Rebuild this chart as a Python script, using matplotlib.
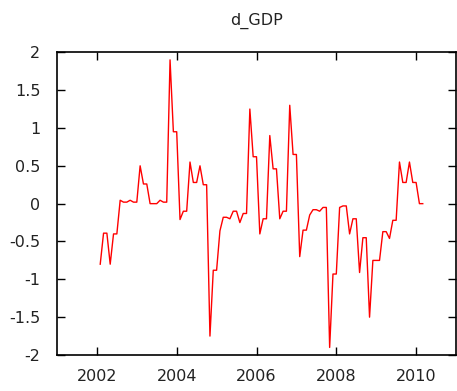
import numpy as np
import matplotlib
matplotlib.use("Agg")
import matplotlib.pyplot as plt

# monthly series, first observation 2002:02
start_year = 2002
start_month = 2
d_gdp = [-0.80, -0.39, -0.39, -0.80, -0.40, -0.40,
         0.045, 0.02, 0.02, 0.045, 0.02, 0.02,
         0.50, 0.26, 0.26, 0.0, 0.0, 0.0,
         0.045, 0.02, 0.02, 1.90, 0.95, 0.95,
         -0.21, -0.10, -0.10, 0.55, 0.28, 0.28,
         0.50, 0.25, 0.25, -1.75, -0.88, -0.88,
         -0.36, -0.18, -0.18, -0.20, -0.10, -0.10,
         -0.25, -0.13, -0.13, 1.25, 0.62, 0.62,
         -0.40, -0.20, -0.20, 0.90, 0.46, 0.46,
         -0.20, -0.10, -0.10, 1.30, 0.65, 0.65,
         -0.70, -0.35, -0.35, -0.15, -0.08, -0.08,
         -0.10, -0.05, -0.05, -1.90, -0.93, -0.93,
         -0.05, -0.03, -0.03, -0.40, -0.20, -0.20,
         -0.91, -0.45, -0.45, -1.50, -0.75, -0.75,
         -0.75, -0.37, -0.37, -0.46, -0.22, -0.22,
         0.55, 0.28, 0.28, 0.55, 0.28, 0.28,
         0.0, 0.0]

xticks = [2002, 2004, 2006, 2008, 2010]
yticks = [-2, -1.5, -1, -0.5, 0, 0.5, 1, 1.5, 2]
ytick_labels = ['-2', '-1.5', '-1', '-0.5', '0', '0.5', '1', '1.5', '2']

t = start_year + (start_month - 1 + np.arange(len(d_gdp))) / 12.0

fig = plt.figure(figsize=(4.57, 3.91), dpi=100)
ax = fig.add_axes([57 / 457, 1 - 355 / 391, 399 / 457, (355 - 52.3) / 391])

ax.plot(t, d_gdp, color='#ff0000', linewidth=1.0)

ax.set_xlim(2001, 2011)
ax.set_ylim(-2, 2)
ax.set_xticks(xticks)
ax.set_xticklabels([str(x) for x in xticks])
ax.set_yticks(yticks)
ax.set_yticklabels(ytick_labels)

ax.tick_params(direction='in', length=6, width=1, top=True, right=True,
               labelsize=11.5, colors='black', labelcolor='#222222')
ax.tick_params(axis='x', pad=10)
ax.tick_params(axis='y', pad=12)
for s in ax.spines.values():
    s.set_linewidth(1.2)

ax.set_title('d_GDP', fontsize=11.5, pad=20, color='#222222')

fig.savefig('out.png', dpi=100)
